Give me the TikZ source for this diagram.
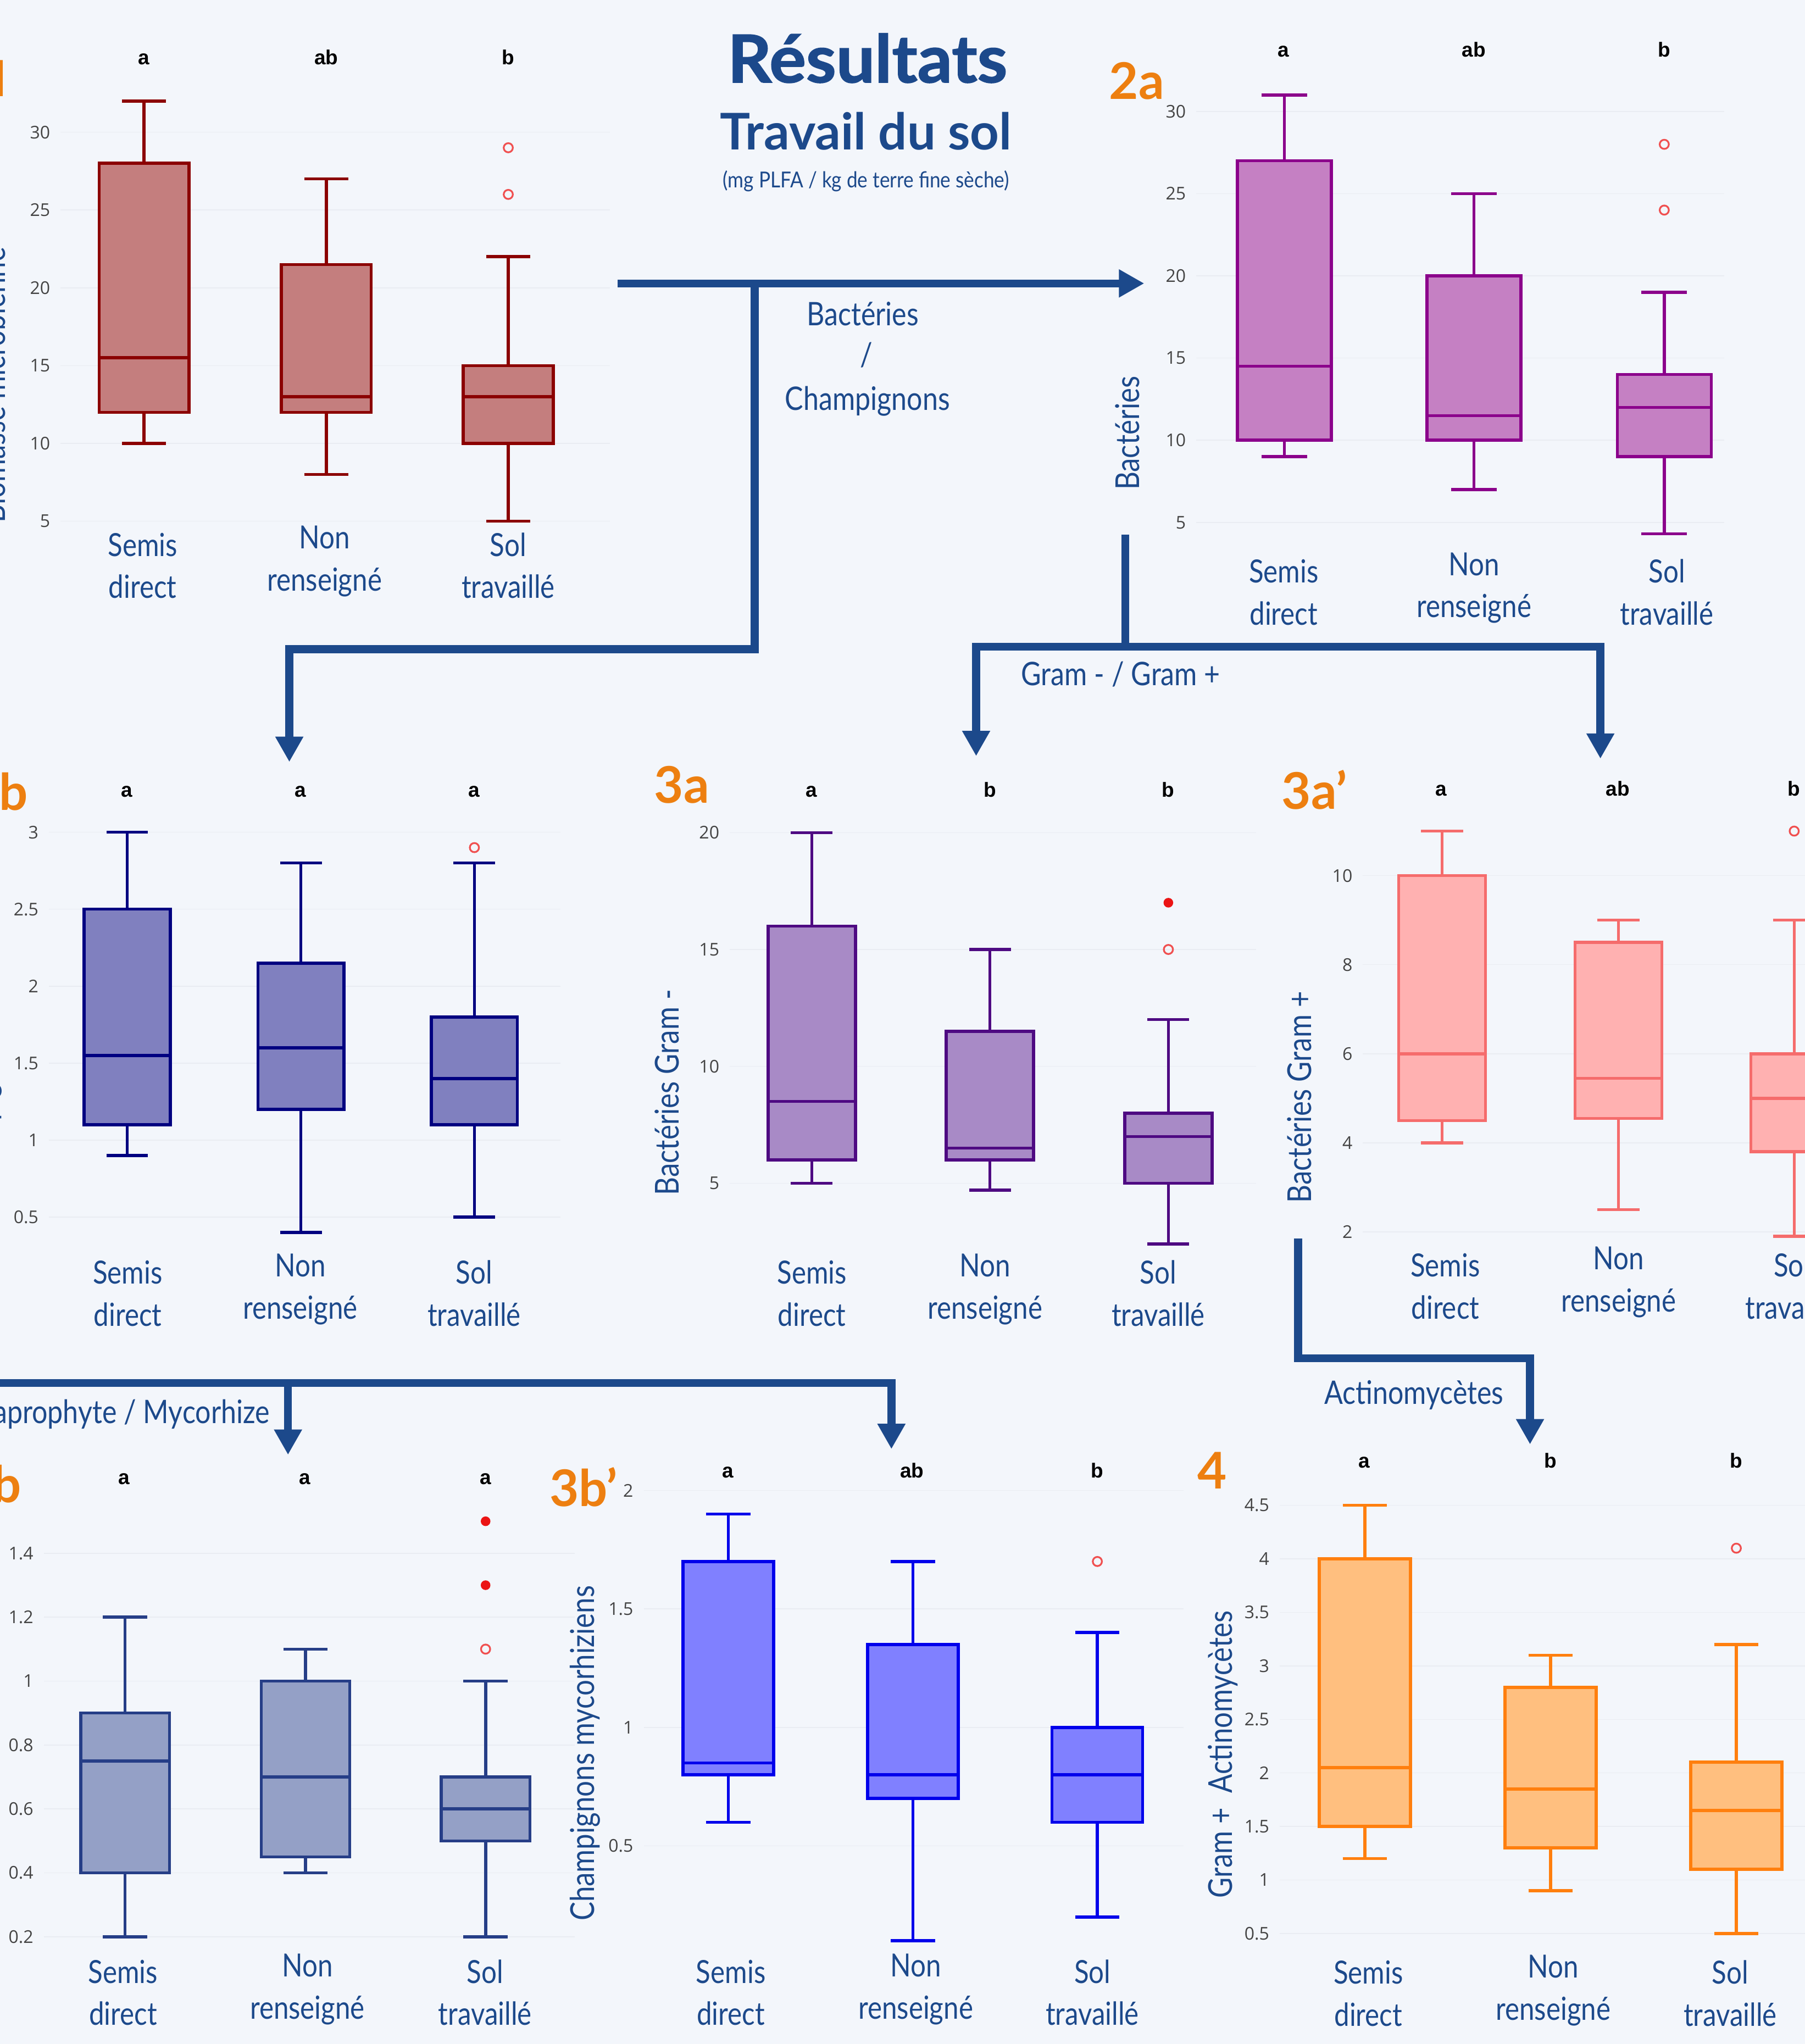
\documentclass[tikz,border=0pt]{standalone}
\usepackage{fontspec}
\usetikzlibrary{arrows.meta}
\setmainfont{Lato}
\newfontfamily\gill{Lato}[FakeStretch=0.85]
\newfontfamily\gillw{Lato}
\newfontfamily\titlef{Lato}[FakeStretch=1.04, FakeBold=1.5]
\newfontfamily\unitf{Lato}[FakeStretch=0.88]
\newfontfamily\tickf{Open Sans}
\newfontfamily\letf{Liberation Sans}
\newfontfamily\onef{Open Sans}
\definecolor{bgc}{RGB}{243,246,251}
\definecolor{navy}{RGB}{28,73,139}
\definecolor{orng}{RGB}{237,127,16}
\definecolor{tickc}{RGB}{68,68,68}
\definecolor{gridc}{RGB}{233,236,242}
\definecolor{outc}{RGB}{240,80,80}
\definecolor{outfillc}{RGB}{235,20,20}
\definecolor{p1l}{RGB}{139,0,0}\definecolor{p1f}{RGB}{196,126,126}
\definecolor{p2l}{RGB}{139,0,139}\definecolor{p2f}{RGB}{197,128,195}
\definecolor{p3l}{RGB}{0,0,128}\definecolor{p3f}{RGB}{128,128,191}
\definecolor{p4l}{RGB}{78,10,130}\definecolor{p4f}{RGB}{168,138,198}
\definecolor{p5l}{RGB}{245,108,108}\definecolor{p5f}{RGB}{255,177,177}
\definecolor{p6l}{RGB}{38,62,135}\definecolor{p6f}{RGB}{148,160,198}
\definecolor{p7l}{RGB}{0,0,235}\definecolor{p7f}{RGB}{128,128,255}
\definecolor{p8l}{RGB}{255,127,14}\definecolor{p8f}{RGB}{255,191,127}
\tikzset{
 bxl/.style={draw=#1, line width=5.5pt},
 gridln/.style={draw=gridc, line width=1.5pt},
 ticklab/.style={font=\tickf\fontsize{32}{32}\selectfont, text=tickc, inner sep=0pt, anchor=east},
 siglab/.style={font=\letf\bfseries\fontsize{37}{37}\selectfont, text=black, inner sep=0pt, anchor=base},
 catlab/.style={font=\gill\fontsize{58}{58}\selectfont, text=navy, inner sep=0pt, anchor=base},
 ylab/.style={font=\gill\fontsize{60}{60}\selectfont, text=navy, inner sep=0pt, anchor=base, rotate=90},
 plab/.style={font=\gillw\bfseries\fontsize{92}{92}\selectfont, text=orng, inner sep=0pt, anchor=base west},
 conn/.style={draw=navy, line width=14.5pt, line join=miter},
 conntip/.style={-{Triangle[length=46pt,width=48pt]}},
 clab/.style={font=\gill\fontsize{59}{59}\selectfont, text=navy, inner sep=0pt, anchor=base},
 outo/.style={draw=outc, line width=3.2pt},
 outfill/.style={fill=outfillc},
}
\newcommand\panel[5]{\def\PY{#1}\def\PV{#2}\def\PK{#3}\def\HB{#4}\def\HC{#5}}
\newcommand\vy[1]{(\PY+(\PV-(#1))*\PK)}
\newcommand\ticks[4]{\foreach \v/\l [count=\i] in {#4}{\draw[gridln] ({#2+8},{\vy{\v}}) -- (#3,{\vy{\v}}); \node[ticklab] (#1t\i) at (#2,{\vy{\v}}) {\l};}}
\newcommand\bx[7]{%
 \draw[bxl=#1l] ({#2-\HC},{\vy{#3}}) -- ({#2+\HC},{\vy{#3}}) (#2,{\vy{#3}}) -- (#2,{\vy{#4}}) (#2,{\vy{#6}}) -- (#2,{\vy{#7}}) ({#2-\HC},{\vy{#7}}) -- ({#2+\HC},{\vy{#7}});
 \draw[bxl=#1l, fill=#1f] ({#2-\HB},{\vy{#4}}) rectangle ({#2+\HB},{\vy{#6}});
 \draw[bxl=#1l] ({#2-\HB},{\vy{#5}}) -- ({#2+\HB},{\vy{#5}});
}
\newcommand\outO[2]{\draw[outo] (#1,{\vy{#2}}) circle[radius=3.5];}
\newcommand\outF[2]{\fill[outfill] (#1,{\vy{#2}}) circle[radius=3.7];}
\newcommand\cats[6]{%
 \node[catlab] (#1c1) at (#2,#5) {Semis};
 \node[catlab] (#1c2) at (#2,{#5+32.3}) {direct};
 \node[catlab] (#1c3) at (#3,#6) {Non};
 \node[catlab] (#1c4) at (#3,{#6+32.3}) {renseigné};
 \node[catlab] (#1c5) at (#4,#5) {Sol};
 \node[catlab] (#1c6) at (#4,{#5+32.3}) {travaillé};
}
\newcommand\sigs[8]{%
 \node[siglab] (#1s1) at (#3,#2) {#4};
 \node[siglab] (#1s2) at (#5,#2) {#6};
 \node[siglab] (#1s3) at (#7,#2) {#8};
}
\begin{document}
\begin{tikzpicture}[x=2.371841pt, y=-2.372449pt]
\useasboundingbox (0,0) rectangle (1385,1568);
\fill[bgc] (0,0) rectangle (1385,1568);
\clip (0,0) rectangle (1385,1568);

% ---------- title ----------
\node[font=\titlef\bfseries\fontsize{120}{120}\selectfont, text=navy, inner sep=0pt, anchor=base] (title) at (665.6,63.2) {Résultats};
\node[font=\gillw\bfseries\fontsize{92}{92}\selectfont, text=navy, inner sep=0pt, anchor=base] (subtitle) at (664.5,115) {Travail du sol};
\node[font=\unitf\fontsize{40}{40}\selectfont, text=navy, inner sep=0pt, anchor=base] (unit) at (664.6,143.8) {(mg PLFA / kg de terre fine sèche)};

% ---------- panel 1 ----------
\panel{101.4}{30}{11.936}{34.5}{17}
\ticks{pA}{38.5}{468}{5/5,10/10,15/15,20/20,25/25,30/30}
\bx{p1}{110.5}{10}{12}{15.5}{28}{32}
\bx{p1}{250.4}{8}{12}{13}{21.5}{27}
\bx{p1}{390}{5}{10}{13}{15}{22}
\outO{390}{26}\outO{390}{29}
\sigs{pA}{49.5}{110.5}{a}{250.4}{ab}{390}{b}
\cats{pA}{109.5}{249}{390}{426.7}{421}
\node[ylab] (pAy) at (4.2,295.3) {Biomasse microbienne};
\node[font=\onef\bfseries\fontsize{92}{92}\selectfont, text=orng, inner sep=0pt, anchor=base east] (pAl) at (8.5,73.8) {1};

% ---------- panel 2a ----------
\panel{85.5}{30}{12.61}{36}{17.5}
\ticks{pB}{910}{1323}{5/5,10/10,15/15,20/20,25/25,30/30}
\bx{p2}{985.5}{9}{10}{14.5}{27}{31}
\bx{p2}{1131}{7}{10}{11.5}{20}{25}
\bx{p2}{1277}{4.3}{9}{12}{14}{19}
\outO{1277}{24}\outO{1277}{28}
\sigs{pB}{43.5}{985}{a}{1131}{ab}{1277}{b}
\cats{pB}{985}{1131}{1279}{447}{441.4}
\node[ylab] (pBy) at (874.2,332.3) {Bactéries};
\node[plab] (pBl) at (851,76) {2a};

% ---------- panel 1b ----------
\panel{638.4}{3}{118.1}{33}{16}
\ticks{pC}{29.6}{430}{0.5/0.5,1/1,1.5/1.5,2/2,2.5/2.5,3/3}
\bx{p3}{97.6}{0.9}{1.1}{1.55}{2.5}{3}
\bx{p3}{230.9}{0.4}{1.2}{1.6}{2.15}{2.8}
\bx{p3}{364}{0.5}{1.1}{1.4}{1.8}{2.8}
\outO{364}{2.9}
\sigs{pC}{611.4}{97.3}{a}{230.7}{a}{363.8}{a}
\cats{pC}{98}{230.4}{363.8}{985}{979.5}
\node[ylab] (pCy) at (-3,850) {Champignons};
\node[plab, anchor=base east] (pCl) at (21.5,621.7) {1b};

% ---------- panel 3a ----------
\panel{638.7}{20}{17.93}{33.5}{16}
\ticks{pD}{552}{964}{5/5,10/10,15/15,20/20}
\bx{p4}{622.9}{5}{6}{8.5}{16}{20}
\bx{p4}{759.6}{4.7}{6}{6.5}{11.5}{15}
\bx{p4}{896.5}{2.4}{5}{7}{8}{12}
\outO{896.5}{15}\outF{896.5}{17}
\sigs{pD}{611.4}{622.5}{a}{759.7}{b}{896.3}{b}
\cats{pD}{623}{755.8}{888.7}{985}{979.5}
\node[ylab] (pDy) at (521,838) {Bactéries Gram -};
\node[plab] (pDl) at (502,616) {3a};

% ---------- panel 3a' ----------
\panel{671.7}{10}{34.16}{33.3}{16.3}
\ticks{pE}{1037.8}{1390}{2/2,4/4,6/6,8/8,10/10}
\bx{p5}{1106.6}{4}{4.5}{6}{10}{11}
\bx{p5}{1241.8}{2.5}{4.55}{5.45}{8.5}{9}
\bx{p5}{1376.7}{1.9}{3.8}{5}{6}{9}
\outO{1376.7}{11}
\sigs{pE}{610.4}{1106}{a}{1241.4}{ab}{1376.6}{b}
\cats{pE}{1109}{1242}{1375}{979.5}{973.9}
\node[ylab] (pEy) at (1006.3,841.7) {Bactéries Gram +};
\node[plab] (pEl) at (983.4,620.7) {3a’};

% ---------- panel 3b ----------
\panel{1191.5}{1.4}{245.2}{34}{17}
\ticks{pF}{25.7}{441}{0.2/0.2,0.4/0.4,0.6/0.6,0.8/0.8,1/1,1.2/1.2,1.4/1.4}
\bx{p6}{96}{0.2}{0.4}{0.75}{0.9}{1.2}
\bx{p6}{234.4}{0.4}{0.45}{0.7}{1.0}{1.1}
\bx{p6}{372.6}{0.2}{0.5}{0.6}{0.7}{1.0}
\outO{372.6}{1.1}\outF{372.6}{1.3}\outF{372.6}{1.5}
\sigs{pF}{1138.7}{95.2}{a}{234}{a}{372.7}{a}
\cats{pF}{94.4}{235.9}{372.2}{1521.3}{1516.4}
\node[plab, anchor=base east] (pFl) at (16.3,1152.5) {3b};

% ---------- panel 3b' ----------
\panel{1143.3}{2}{181.8}{34.8}{17}
\ticks{pG}{486}{908}{0.5/0.5,1/1,1.5/1.5,2/2}
\bx{p7}{558.8}{0.6}{0.8}{0.85}{1.7}{1.9}
\bx{p7}{700.5}{0.1}{0.7}{0.8}{1.35}{1.7}
\bx{p7}{842}{0.2}{0.6}{0.8}{1.0}{1.4}
\outO{842}{1.7}
\sigs{pG}{1133.8}{558.4}{a}{699.8}{ab}{841.7}{b}
\cats{pG}{560.8}{702.7}{838.2}{1521.3}{1516.4}
\node[ylab] (pGy) at (456,1345) {Champignons mycorhiziens};
\node[plab] (pGl) at (421.6,1155.7) {3b’};

% ---------- panel 4 ----------
\panel{1154.8}{4.5}{82.1}{35}{17}
\ticks{pH}{974}{1390}{0.5/0.5,1/1,1.5/1.5,2/2,2.5/2.5,3/3,3.5/3.5,4/4,4.5/4.5}
\bx{p8}{1047.3}{1.2}{1.5}{2.05}{4.0}{4.5}
\bx{p8}{1189.8}{0.9}{1.3}{1.85}{2.8}{3.1}
\bx{p8}{1332.3}{0.5}{1.1}{1.65}{2.1}{3.2}
\outO{1332.3}{4.1}
\sigs{pH}{1126.2}{1046.6}{a}{1189.7}{b}{1332.2}{b}
\cats{pH}{1049.9}{1191.8}{1327.6}{1522}{1517.3}
\node[ylab] (pHy) at (945.5,1346) {Gram +~~Actinomycètes};
\node[plab] (pHl) at (918.7,1142) {4};

% ---------- connectors ----------
\coordinate (a0) at (474,217.4);
\coordinate (aJ) at (579,217.4);
\coordinate (aT) at (878,217.4);
\coordinate (aC) at (579,498);
\coordinate (aT2) at (222,584.5);
\draw[conn, conntip] (a0) -- (aT);
\draw[conn, conntip] (aJ) -- (aC) -| (aT2);

\coordinate (b0) at (863.5,410);
\coordinate (bJ) at (863.5,496);
\coordinate (bTL) at (749,580);
\coordinate (bTR) at (1228,582);
\draw[conn] (b0) -- (bJ);
\draw[conn, conntip] (bJ) -| (bTL);
\draw[conn, conntip] (bJ) -| (bTR);

\coordinate (c0) at (996,950);
\coordinate (cJ) at (996,1042);
\coordinate (cT) at (1174,1108);
\draw[conn, conntip] (c0) -- (cJ) -| (cT);

\coordinate (d0) at (-20,1061);
\coordinate (dJ) at (221,1061);
\coordinate (dT1) at (221,1116);
\coordinate (dT2) at (684,1111.6);
\draw[conn, conntip] (d0) -| (dT2);
\draw[conn, conntip] (dJ) -- (dT1);

\node[clab] (lab1a) at (662,249.7) {Bactéries};
\node[clab] (lab1b) at (665,281) {/};
\node[clab] (lab1c) at (665.6,314.7) {Champignons};
\node[clab] (lab2) at (860,526) {Gram - / Gram +};
\node[clab] (lab3) at (1085,1077) {Actinomycètes};
\node[clab, anchor=base east] (lab4) at (207,1091.8) {Saprophyte / Mycorhize};
\end{tikzpicture}
\end{document}
